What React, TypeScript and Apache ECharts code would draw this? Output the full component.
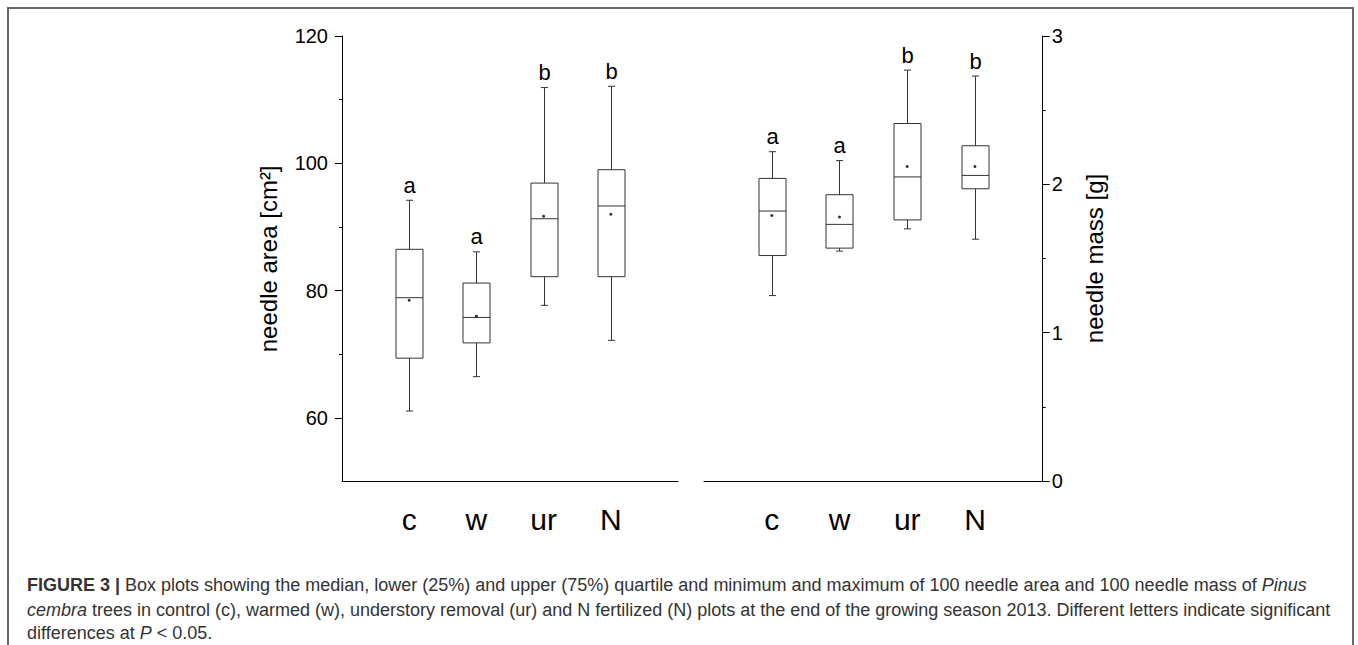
import React, { useEffect, useRef } from "react";
import * as echarts from "echarts";

const FONT = 'Arial, "Liberation Sans", Helvetica, sans-serif';

const categories = ["c", "w", "ur", "N"];
const xSlots = ["", ...categories, ""];

// needle area [cm2]
const areaMin = [61.1, 66.5, 77.7, 72.2];
const areaQ1 = [69.4, 71.8, 82.2, 82.2];
const areaMedian = [78.9, 75.8, 91.3, 93.3];
const areaQ3 = [86.5, 81.2, 96.9, 99.0];
const areaMax = [94.2, 86.1, 111.9, 112.1];
const areaMean = [78.5, 76.0, 91.7, 92.0];
const areaLetters = ["a", "a", "b", "b"];

// needle mass [g]
const massMin = [1.25, 1.55, 1.7, 1.63];
const massQ1 = [1.52, 1.57, 1.76, 1.97];
const massMedian = [1.82, 1.73, 2.05, 2.06];
const massQ3 = [2.04, 1.93, 2.41, 2.26];
const massMax = [2.22, 2.16, 2.77, 2.73];
const massMean = [1.79, 1.78, 2.12, 2.12];
const massLetters = ["a", "a", "b", "b"];

const areaMajorTicks = [60, 80, 100, 120];
const areaMinorTicks = [70, 90, 110];
const massMajorTicks = [0, 1, 2, 3];
const massMinorTicks = [0.5, 1.5, 2.5];

const captionLines = [
  "{b|FIGURE 3 |} Box plots showing the median, lower (25%) and upper (75%) quartile and minimum and maximum of 100 needle area and 100 needle mass of {i|Pinus}",
  "{i|cembra} trees in control (c), warmed (w), understory removal (ur) and N fertilized (N) plots at the end of the growing season 2013. Different letters indicate significant",
  "differences at {i|P} < 0.05.",
];

function boxData(mn: number[], q1: number[], md: number[], q3: number[], mx: number[]) {
  return categories.map((_, i) => [i + 1, mn[i], q1[i], md[i], q3[i], mx[i]]);
}
function meanData(m: number[]) {
  return categories.map((_, i) => [i + 1, m[i]]);
}

const STROKE = "#333";
const CAP_FS = 18;

function makeRenderItem(letters: string[]) {
  return (params: any, api: any) => {
    const x = api.value(0);
    const pMin = api.coord([x, api.value(1)]);
    const pQ1 = api.coord([x, api.value(2)]);
    const pMd = api.coord([x, api.value(3)]);
    const pQ3 = api.coord([x, api.value(4)]);
    const pMax = api.coord([x, api.value(5)]);
    const cx = Math.round(pMin[0]) + 0.5;
    const hw = 13.5;
    const cap = 3.5;
    const ls = { stroke: STROKE, lineWidth: 1, fill: "none" };
    return {
      type: "group",
      children: [
        { type: "line", shape: { x1: cx, y1: pQ1[1], x2: cx, y2: pMin[1] }, style: ls },
        { type: "line", shape: { x1: cx, y1: pQ3[1], x2: cx, y2: pMax[1] }, style: ls },
        { type: "line", shape: { x1: cx - cap, y1: pMin[1], x2: cx + cap, y2: pMin[1] }, style: ls },
        { type: "line", shape: { x1: cx - cap, y1: pMax[1], x2: cx + cap, y2: pMax[1] }, style: ls },
        {
          type: "rect",
          shape: { x: cx - hw, y: pQ3[1], width: hw * 2, height: pQ1[1] - pQ3[1] },
          style: { stroke: STROKE, lineWidth: 1, fill: "none" },
        },
        { type: "line", shape: { x1: cx - hw, y1: pMd[1], x2: cx + hw, y2: pMd[1] }, style: ls },
        {
          type: "text",
          x: cx,
          y: pMax[1] - 15,
          style: {
            text: letters[params.dataIndex],
            fontSize: 22,
            fontFamily: FONT,
            fill: "#000",
            align: "center",
            verticalAlign: "middle",
          },
        },
      ],
    };
  };
}

function xAxisCfg(gridIndex: number) {
  return {
    gridIndex,
    type: "category",
    data: xSlots,
    boundaryGap: false,
    axisLine: { show: true, lineStyle: { color: "#000", width: 1 } },
    axisTick: { show: false },
    axisLabel: { interval: 0, fontSize: 30, color: "#000", margin: 23, fontFamily: FONT },
    splitLine: { show: false },
  };
}

export default function App() {
  const ref = useRef<HTMLDivElement>(null);
  useEffect(() => {
    if (!ref.current) return;
    const chart = echarts.init(ref.current, null, { renderer: "svg" });
    const option: any = {
      animation: false,
      backgroundColor: "#fff",
      grid: [
        { left: 342, top: 36, width: 336, height: 445.7 },
        { left: 704, top: 36, width: 338.7, height: 445 },
      ],
      xAxis: [xAxisCfg(0), xAxisCfg(1)],
      yAxis: [
        {
          gridIndex: 0,
          type: "value",
          min: 50,
          max: 120,
          position: "left",
          axisLine: { show: true, lineStyle: { color: "#000", width: 1 } },
          axisTick: { show: true, length: 7, customValues: areaMajorTicks, lineStyle: { color: "#000" } },
          axisLabel: { customValues: areaMajorTicks, fontSize: 20, color: "#000", margin: 14, fontFamily: FONT },
          splitLine: { show: false },
          name: "needle area [cm²]",
          nameLocation: "middle",
          nameRotate: 90,
          nameGap: 62,
          nameTextStyle: { fontSize: 24, color: "#000", fontFamily: FONT },
        },
        {
          gridIndex: 0,
          type: "value",
          min: 50,
          max: 120,
          position: "left",
          axisLine: { show: false },
          axisTick: { show: true, length: 3, customValues: areaMinorTicks, lineStyle: { color: "#000" } },
          axisLabel: { show: false },
          splitLine: { show: false },
        },
        {
          gridIndex: 1,
          type: "value",
          min: 0,
          max: 3,
          position: "right",
          axisLine: { show: true, lineStyle: { color: "#000", width: 1 } },
          axisTick: { show: true, length: 7, customValues: massMajorTicks, lineStyle: { color: "#000" } },
          axisLabel: { customValues: massMajorTicks, fontSize: 20, color: "#000", margin: 9, fontFamily: FONT },
          splitLine: { show: false },
          name: "needle mass [g]",
          nameLocation: "middle",
          nameRotate: 90,
          nameGap: 40,
          nameTextStyle: { fontSize: 24, color: "#000", fontFamily: FONT },
        },
        {
          gridIndex: 1,
          type: "value",
          min: 0,
          max: 3,
          position: "right",
          axisLine: { show: false },
          axisTick: { show: true, length: 3, customValues: massMinorTicks, lineStyle: { color: "#000" } },
          axisLabel: { show: false },
          splitLine: { show: false },
        },
      ],
      series: [
        {
          type: "custom",
          xAxisIndex: 0,
          yAxisIndex: 0,
          data: boxData(areaMin, areaQ1, areaMedian, areaQ3, areaMax),
          encode: { x: 0, y: [1, 2, 3, 4, 5] },
          renderItem: makeRenderItem(areaLetters),
        },
        {
          type: "scatter",
          xAxisIndex: 0,
          yAxisIndex: 0,
          data: meanData(areaMean),
          symbol: "circle",
          symbolSize: 3,
          itemStyle: { color: "#000" },
          z: 5,
        },
        {
          type: "custom",
          xAxisIndex: 1,
          yAxisIndex: 2,
          data: boxData(massMin, massQ1, massMedian, massQ3, massMax),
          encode: { x: 0, y: [1, 2, 3, 4, 5] },
          renderItem: makeRenderItem(massLetters),
        },
        {
          type: "scatter",
          xAxisIndex: 1,
          yAxisIndex: 2,
          data: meanData(massMean),
          symbol: "circle",
          symbolSize: 3,
          itemStyle: { color: "#000" },
          z: 5,
        },
      ],
      graphic: [
        {
          type: "rect",
          shape: { x: 8, y: 8, width: 1345, height: 700 },
          style: { fill: "none", stroke: "#666", lineWidth: 2 },
          silent: true,
        },
        ...captionLines.map((t, i) => ({
          type: "text",
          x: 27,
          y: [585, 610, 633][i],
          silent: true,
          style: {
            text: t,
            fontSize: CAP_FS,
            fontFamily: FONT,
            fill: "#333",
            verticalAlign: "middle",
            align: "left",
            rich: {
              b: { fontWeight: "bold", fontSize: CAP_FS, fontFamily: FONT, fill: "#333" },
              i: { fontStyle: "italic", fontSize: CAP_FS, fontFamily: FONT, fill: "#333" },
            },
          },
        })),
      ],
    };
    chart.setOption(option);
    return () => chart.dispose();
  }, []);
  return (
    <div
      ref={ref}
      style={{ position: "absolute", left: 0, top: 0, width: 1358, height: 645, background: "#fff" }}
    />
  );
}
